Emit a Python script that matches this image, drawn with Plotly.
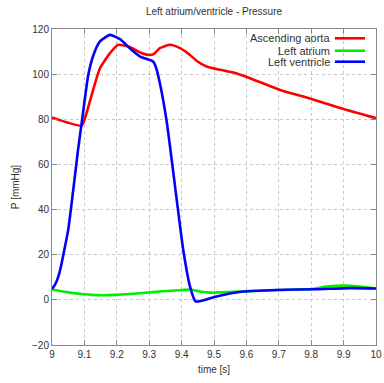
import plotly.graph_objects as go

# Ascending aorta
t_ao = [9.0, 9.092, 9.105, 9.117, 9.133, 9.148, 9.165, 9.179, 9.204, 9.24, 9.272, 9.302, 9.315,
        9.333, 9.364, 9.395, 9.426, 9.447, 9.477, 9.519, 9.56, 9.611, 9.704, 9.796, 9.889, 10.0]
p_ao = [80.8, 77.2, 82.0, 88.0, 96.0, 102.6, 106.5, 109.3, 113.0, 112.0, 109.6, 108.5, 109.0,
        111.5, 113.0, 111.5, 108.5, 105.8, 103.4, 101.9, 100.7, 98.2, 93.0, 89.2, 85.0, 80.5]

# Left atrium
t_la = [9.0, 9.056, 9.1, 9.138, 9.2, 9.272, 9.333, 9.405, 9.43, 9.46, 9.488, 9.59, 9.7, 9.8,
        9.848, 9.91, 9.97, 10.0]
p_la = [4.6, 3.2, 2.5, 2.1, 2.2, 2.9, 3.7, 4.4, 4.5, 3.6, 3.2, 3.7, 4.4, 4.8, 5.9, 6.3, 5.6, 5.0]

# Left ventricle
t_lv = [9.0, 9.009, 9.02, 9.028, 9.035, 9.05, 9.065, 9.08, 9.095, 9.112, 9.128, 9.148, 9.179,
        9.21, 9.24, 9.272, 9.302, 9.312, 9.32, 9.333, 9.354, 9.385, 9.405, 9.426, 9.443, 9.488,
        9.508, 9.59, 9.693, 9.817, 9.92, 10.0]
p_lv = [4.8, 6.6, 10.5, 15.0, 20.0, 31.0, 48.0, 66.0, 82.0, 99.7, 108.5, 114.5, 117.4,
        115.5, 111.5, 107.8, 106.3, 105.6, 103.4, 96.0, 79.0, 44.3, 22.2, 5.9, -0.7, 0.7,
        1.5, 3.7, 4.4, 4.7, 5.2, 5.0]

names = ["Ascending aorta", "Left atrium", "Left ventricle"]
colors = ["#ff0000", "#00ee00", "#0000ff"]
x_ticks = [9, 9.1, 9.2, 9.3, 9.4, 9.5, 9.6, 9.7, 9.8, 9.9, 10]
x_tick_text = ["9", "9.1", "9.2", "9.3", "9.4", "9.5", "9.6", "9.7", "9.8", "9.9", "10"]
y_ticks = [-20, 0, 20, 40, 60, 80, 100, 120]

fig = go.Figure()
for t, p, n, c in [(t_ao, p_ao, names[0], colors[0]),
                   (t_la, p_la, names[1], colors[1]),
                   (t_lv, p_lv, names[2], colors[2])]:
    fig.add_trace(go.Scatter(x=t, y=p, name=n, mode="lines",
                             line=dict(color=c, width=2.6, shape="spline", smoothing=0.5),
                             showlegend=False))

FAM = "Liberation Sans, Arial, sans-serif"
font = dict(family=FAM, size=10, color="#333333")
axis_common = dict(showline=True, linecolor="#8a8a8a", linewidth=1, mirror="ticks",
                   ticks="inside", ticklen=5, tickcolor="#8a8a8a",
                   showgrid=True, gridcolor="#c8c8c8", griddash="dot", gridwidth=1,
                   zeroline=False, tickfont=font, automargin=False)

fig.update_layout(
    width=384, height=383,
    margin=dict(l=52, r=8, t=29, b=38),
    paper_bgcolor="white", plot_bgcolor="white",
    font=font,
    title=dict(text="Left atrium/ventricle - Pressure", x=0.5, xanchor="center",
               xref="paper", y=1 - 11.5 / 383, yanchor="middle",
               font=dict(size=10, color="#333333", family=FAM)),
    xaxis=dict(range=[9, 10], tickvals=x_ticks, ticktext=x_tick_text,
               title=dict(text="time [s]", standoff=6, font=font), **axis_common),
    yaxis=dict(range=[-20, 120], tickvals=y_ticks,
               title=dict(text="P [mmHg]", standoff=10, font=font), **axis_common),
)

# custom legend: text right-aligned, line sample on the right
leg_y = [0.9706, 0.9313, 0.8965]
for n, c, yy in zip(names, colors, leg_y):
    fig.add_annotation(x=0.864, y=yy, xref="paper", yref="paper", text=n, showarrow=False,
                       xanchor="right", yanchor="middle",
                       font=dict(size=11, color="#333333", family=FAM))
    fig.add_shape(type="line", xref="paper", yref="paper", x0=0.873, x1=0.966, y0=yy, y1=yy,
                  line=dict(color=c, width=2.6))

fig.write_html("out.html", config={"displayModeBar": False},
               post_script="document.body.style.margin='0';document.body.style.overflow='hidden';")
